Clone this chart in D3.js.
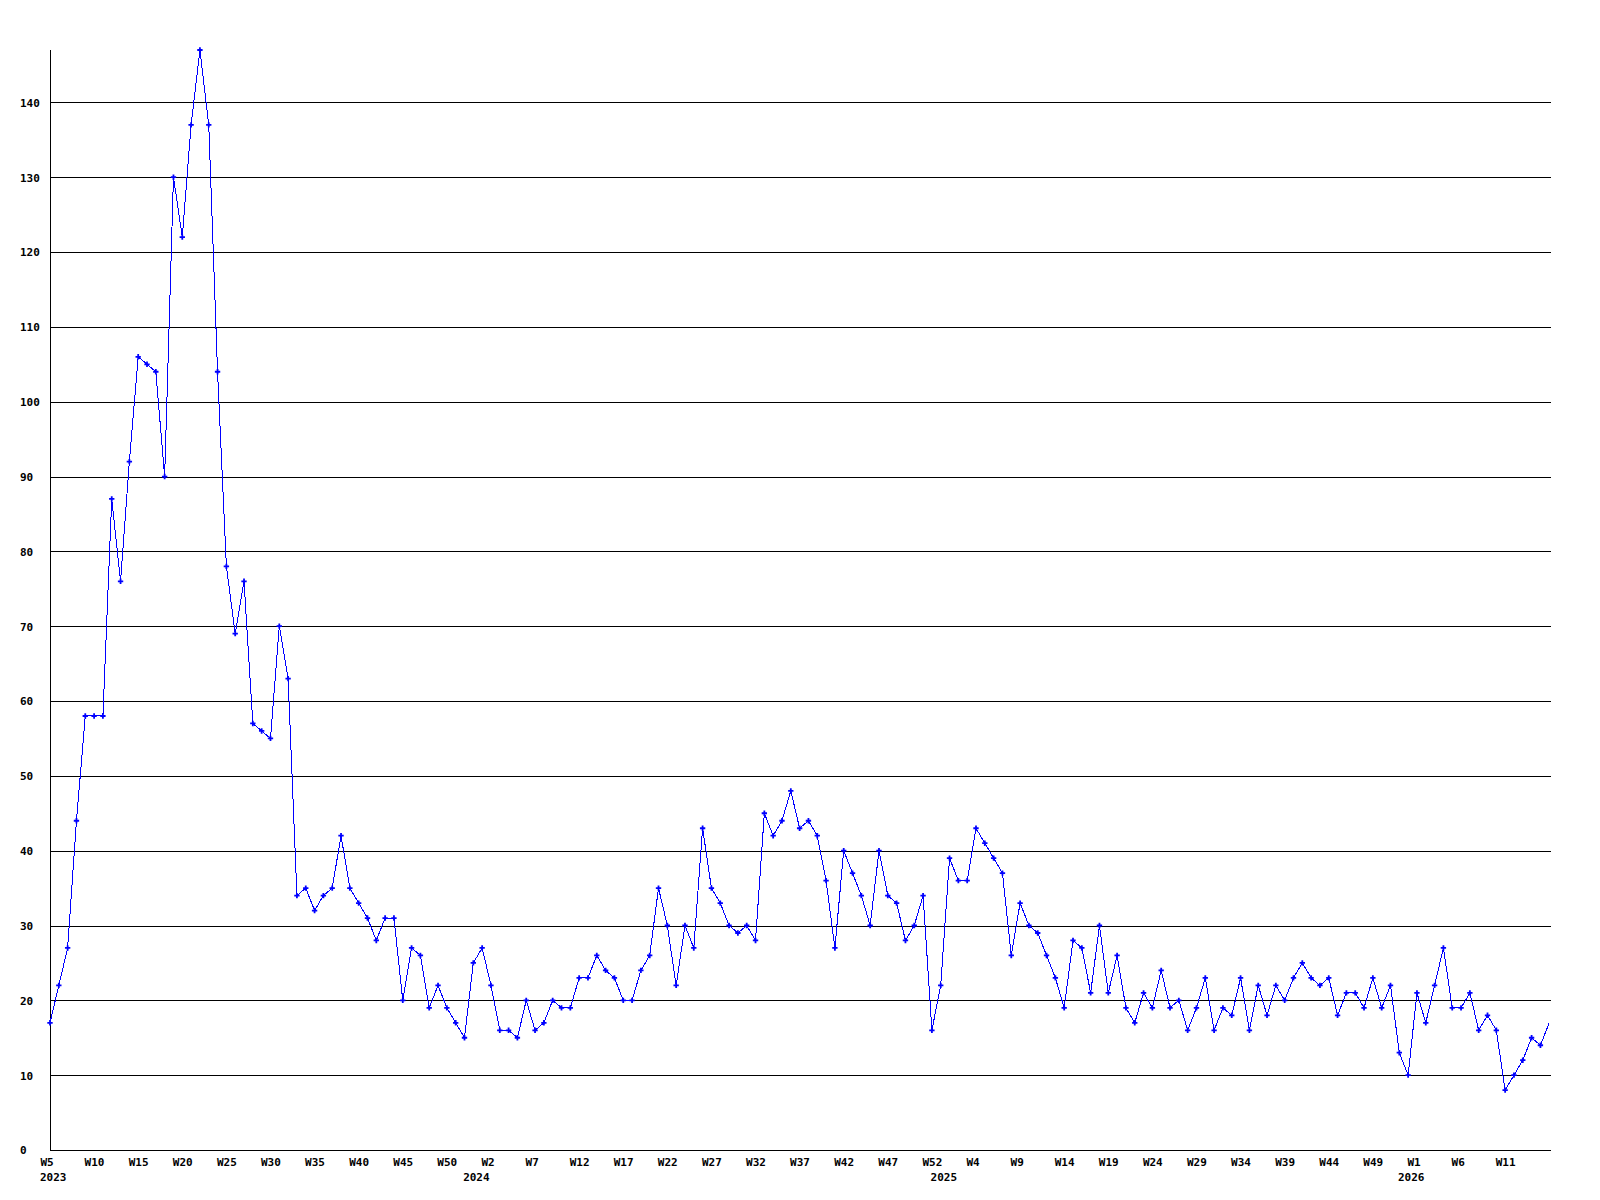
<!DOCTYPE html>
<html>
<head>
<meta charset="utf-8">
<script src="https://cdn.jsdelivr.net/npm/d3@7"></script>
<style>
  html, body { margin: 0; padding: 0; background: #ffffff; }
  svg { display: block; }
  text { font-family: "DejaVu Sans Mono", "Liberation Mono", monospace; font-weight: bold; font-size: 11px; fill: #000; }
</style>
</head>
<body>
<svg id="chart" width="1600" height="1200"></svg>
<script>
// ---- data ----
const years = ["2023", "2024", "2025", "2026"];
const weeksPerYear = [[5, 53], [1, 53], [1, 53], [1, 16]]; // first..last week shown per year
const values = [
  17, 22, 27, 44, 58, 58, 58, 87, 76, 92,
  106, 105, 104, 90, 130, 122, 137, 147, 137, 104,
  78, 69, 76, 57, 56, 55, 70, 63, 34, 35,
  32, 34, 35, 42, 35, 33, 31, 28, 31, 31,
  20, 27, 26, 19, 22, 19, 17, 15, 25, 27,
  22, 16, 16, 15, 20, 16, 17, 20, 19, 19,
  23, 23, 26, 24, 23, 20, 20, 24, 26, 35,
  30, 22, 30, 27, 43, 35, 33, 30, 29, 30,
  28, 45, 42, 44, 48, 43, 44, 42, 36, 27,
  40, 37, 34, 30, 40, 34, 33, 28, 30, 34,
  16, 22, 39, 36, 36, 43, 41, 39, 37, 26,
  33, 30, 29, 26, 23, 19, 28, 27, 21, 30,
  21, 26, 19, 17, 21, 19, 24, 19, 20, 16,
  19, 23, 16, 19, 18, 23, 16, 22, 18, 22,
  20, 23, 25, 23, 22, 23, 18, 21, 21, 19,
  23, 19, 22, 13, 10, 21, 17, 22, 27, 19,
  19, 21, 16, 18, 16, 8, 10, 12, 15, 14,
  17
];
const yTicks = [0, 10, 20, 30, 40, 50, 60, 70, 80, 90, 100, 110, 120, 130, 140];
const yMax = 147;
const labelEvery = 5;

// build week categories
const categories = [];
years.forEach((yr, i) => {
  const [a, b] = weeksPerYear[i];
  for (let w = a; w <= b; w++) categories.push({ year: yr, week: "W" + w, wn: w });
});

// ---- layout ----
const mLeft = 50, mRight = 1551, mTop = 50, mBottom = 1150;
const svg = d3.select("#chart");

const x = d3.scaleLinear().domain([0, values.length - 0.8]).range([mLeft, mRight]);
const y = d3.scaleLinear().domain([0, yMax]).range([mBottom, mTop]);

// gridlines + y labels via axis
const yAxis = d3.axisLeft(y)
  .tickValues(yTicks)
  .tickSize(-(mRight - mLeft))
  .tickFormat(d => d);
const gy = svg.append("g").attr("transform", `translate(${mLeft},0)`).call(yAxis);
gy.select(".domain").remove();
gy.selectAll(".tick line")
  .attr("stroke", "#000").attr("stroke-width", 1).attr("shape-rendering", "crispEdges");
gy.selectAll(".tick text")
  .attr("text-anchor", "start").attr("x", 20 - mLeft).attr("dy", "0.35em")
  .style("font-family", "'DejaVu Sans Mono', monospace").style("font-weight", "bold").style("font-size", "11px").attr("fill", "#000");

// axis lines
svg.append("line").attr("x1", mLeft).attr("x2", mLeft).attr("y1", mTop).attr("y2", mBottom)
  .attr("stroke", "#000").attr("shape-rendering", "crispEdges");
svg.append("line").attr("x1", mLeft).attr("x2", mRight).attr("y1", mBottom).attr("y2", mBottom)
  .attr("stroke", "#000").attr("shape-rendering", "crispEdges");

// x labels via axis (the last, incomplete week is not labelled)
const tickIdx = d3.range(0, values.length - 1, labelEvery);
const xAxis = d3.axisBottom(x).tickValues(tickIdx).tickSize(0).tickPadding(0)
  .tickFormat(i => categories[i].week);
const gx = svg.append("g").attr("transform", `translate(0,${mBottom})`).call(xAxis);
gx.select(".domain").remove();
gx.selectAll(".tick text")
  .attr("text-anchor", "start").attr("dx", -10).attr("y", 12).attr("dy", "0.35em")
  .style("font-family", "'DejaVu Sans Mono', monospace").style("font-weight", "bold").style("font-size", "11px").attr("fill", "#000");

// year labels at first week of each year
const yearStarts = years.map(yr => {
  const i = categories.findIndex(c => c.year === yr && c.wn === 1);
  return { yr, i: i < 0 ? 0 : i, first: i < 0 };
});
svg.append("g").selectAll("text").data(yearStarts).join("text")
  .attr("x", d => x(d.i) + (d.first ? -10 : -19))
  .attr("y", mBottom + 27).attr("dy", "0.35em")
  .text(d => d.yr);

// line
svg.append("clipPath").attr("id", "plotclip")
  .append("rect").attr("x", mLeft).attr("y", 0).attr("width", mRight - mLeft).attr("height", mBottom);
const line = d3.line().x((d, i) => x(i)).y(d => y(d));
svg.append("path").datum(values)
  .attr("clip-path", "url(#plotclip)")
  .attr("d", line).attr("fill", "none").attr("stroke", "#0000ff").attr("stroke-width", 1)
  .attr("shape-rendering", "crispEdges");

// markers (last, incomplete week has none)
const sym = d3.symbol(d3.symbolCross, 16);
svg.append("g").selectAll("path").data(values.slice(0, values.length - 1)).join("path")
  .attr("transform", (d, i) => `translate(${x(i)},${y(d)})`)
  .attr("d", sym).attr("fill", "#0000ff");
</script>
</body>
</html>
